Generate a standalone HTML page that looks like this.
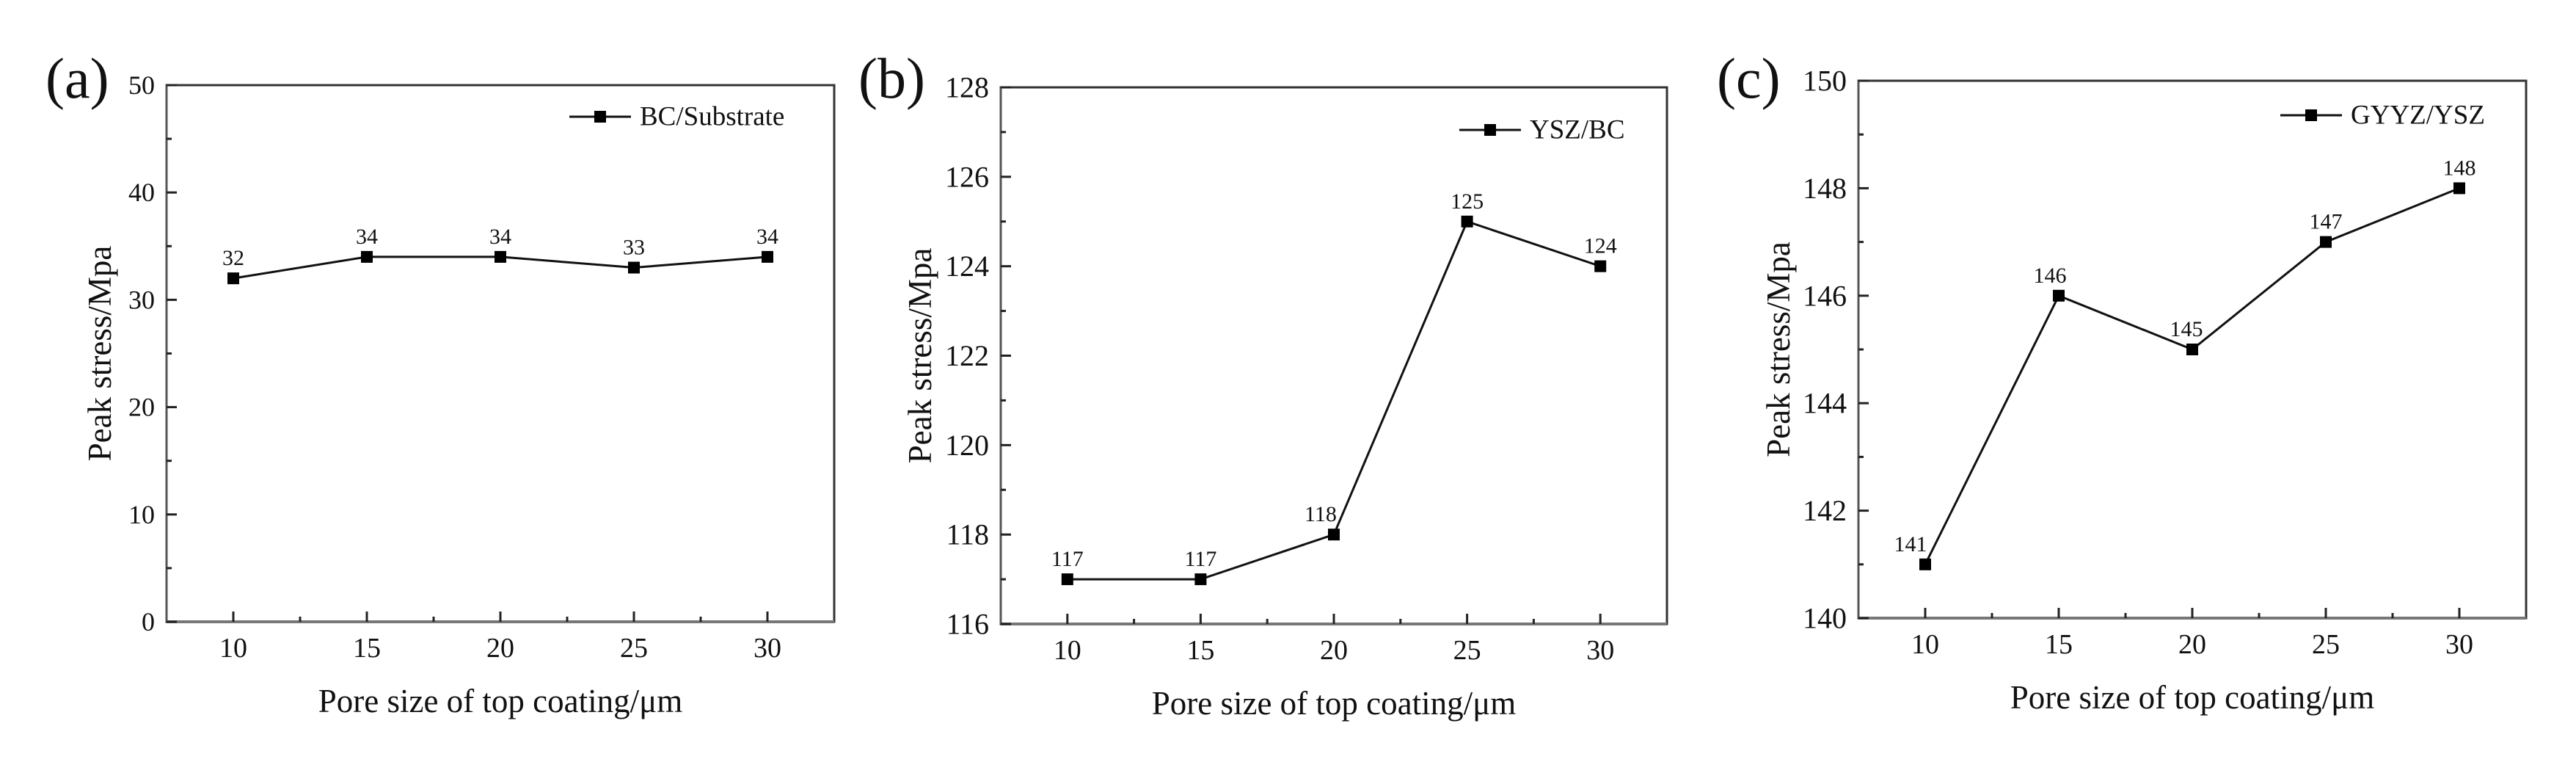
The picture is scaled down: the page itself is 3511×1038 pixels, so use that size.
<!DOCTYPE html>
<html><head><meta charset="utf-8"><style>
body{margin:0;background:#fff;}
svg{display:block;font-family:"Liberation Serif",serif;}
</style></head><body>
<svg id="fig" width="3511" height="1038" viewBox="0 0 3511 1038"></svg>
<script>
const categories = [10, 15, 20, 25, 30];
const seriesA = [32, 34, 34, 33, 34];
const seriesB = [117, 117, 118, 125, 124];
const seriesC = [141, 146, 145, 147, 148];
const ticksA = [0, 10, 20, 30, 40, 50];
const ticksB = [116, 118, 120, 122, 124, 126, 128];
const ticksC = [140, 142, 144, 146, 148, 150];
const xTickLabels = ["10", "15", "20", "25", "30"];
const legendA = "BC/Substrate", legendB = "YSZ/BC", legendC = "GYYZ/YSZ";

const NS = "http://www.w3.org/2000/svg";
const svg = document.getElementById('fig');
function mk(tag, attrs, parent, text){
  const e = document.createElementNS(NS, tag);
  for (const k in attrs) e.setAttribute(k, attrs[k]);
  if (text !== undefined) e.textContent = text;
  (parent || svg).appendChild(e);
  return e;
}
function panel(cfg){
  const g = mk('g', {});
  
  
  const {L, R, T, B} = cfg;
  const ymin = cfg.ticks[0], ymax = cfg.ticks[cfg.ticks.length-1];
  const xs = v => L + (v - 7.5) / 25 * (R - L);
  const ys = v => B - (v - ymin) / (ymax - ymin) * (B - T);
  // frame
  const fr = mk('rect', {x:L, y:T, width:R-L, height:B-T, fill:'none', stroke:'#333', 'stroke-width':3}, g);
  
  
  mk('line', {x1:L, y1:B, x2:R, y2:B, stroke:'#777', 'stroke-width':4}, g);
  mk('line', {x1:L, y1:T, x2:L, y2:B, stroke:'#555', 'stroke-width':3}, g);
  // y ticks
  const step = cfg.ticks[1] - cfg.ticks[0];
  cfg.ticks.forEach((t, i) => {
    const y = ys(t);
    mk('line', {x1:L, y1:y, x2:L+14, y2:y, stroke:'#222', 'stroke-width':3}, g);
    if (i < cfg.ticks.length-1) {
      const ym = ys(t + step/2);
      mk('line', {x1:L, y1:ym, x2:L+7, y2:ym, stroke:'#222', 'stroke-width':3}, g);
    }
    const tl = mk('text', {x:L-16, y:y, 'font-size':cfg.tfs, 'text-anchor':'end', 'dominant-baseline':'central', fill:'#111'}, g, String(t));
    
    
  });
  // x ticks
  categories.forEach((c, i) => {
    const x = xs(c);
    mk('line', {x1:x, y1:B, x2:x, y2:B-14, stroke:'#222', 'stroke-width':3}, g);
    if (i < categories.length-1) {
      const xm = xs(c + 2.5);
      mk('line', {x1:xm, y1:B, x2:xm, y2:B-7, stroke:'#222', 'stroke-width':3}, g);
    }
    const tl = mk('text', {x:x, y:B+36, 'font-size':38, 'text-anchor':'middle', 'dominant-baseline':'central', fill:'#111'}, g, xTickLabels[i]);
    
    
  });
  // line
  const pts = categories.map((c, i) => xs(c) + ',' + ys(cfg.data[i])).join(' ');
  const pl = mk('polyline', {points:pts, fill:'none', stroke:'#111', 'stroke-width':3}, g);
  
  
  categories.forEach((c, i) => {
    const x = xs(c), y = ys(cfg.data[i]);
    const m = mk('rect', {x:x-8, y:y-8, width:16, height:16, fill:'#000'}, g);
    
    
    const dx = (cfg.dx && cfg.dx[i]) || 0;
    const lb = mk('text', {x:x+dx, y:y-18, 'font-size':30, 'text-anchor':'middle', fill:'#111'}, g, String(cfg.data[i]));
    
    
  });
  // legend
  const lg = mk('g', {}, g);
  
  
  mk('line', {x1:cfg.lx, y1:cfg.ly, x2:cfg.lx+84, y2:cfg.ly, stroke:'#111', 'stroke-width':3}, lg);
  mk('rect', {x:cfg.lx+42-8, y:cfg.ly-8, width:16, height:16, fill:'#000'}, lg);
  mk('text', {x:cfg.lx+96, y:cfg.ly, 'font-size':37, 'dominant-baseline':'central', fill:'#111'}, lg, cfg.legend);
  // titles
  const yt = mk('text', {x:cfg.ytx, y:(T+B)/2, 'font-size':45, 'text-anchor':'middle', 'dominant-baseline':'central', fill:'#111', transform:'rotate(-90 '+cfg.ytx+' '+(T+B)/2+')'}, g, 'Peak stress/Mpa');
  
  
  const xt = mk('text', {x:(L+R)/2, y:B+108, 'font-size':45, 'text-anchor':'middle', 'dominant-baseline':'central', fill:'#111'}, g, 'Pore size of top coating/\u03bcm');
  
  
  const pt = mk('text', {x:cfg.px, y:133, 'font-size':78, fill:'#111'}, g, '(' + cfg.id + ')');
  
  
}
panel({id:'a', L:227, R:1137, T:116, B:847, ticks:ticksA, data:seriesA, tfs:36, legend:legendA, lx:776, ly:159, ytx:136, px:62});
panel({id:'b', L:1364, R:2272, T:119, B:850, ticks:ticksB, data:seriesB, tfs:40, legend:legendB, lx:1989, ly:177, ytx:1254, px:1170, dx:[0,0,-18,0,0]});
panel({id:'c', L:2533, R:3443, T:110, B:842, ticks:ticksC, data:seriesC, tfs:40, legend:legendC, lx:3108, ly:157, ytx:2424, px:2340, dx:[-20,-12,-8,0,0]});
</script>
</body></html>
